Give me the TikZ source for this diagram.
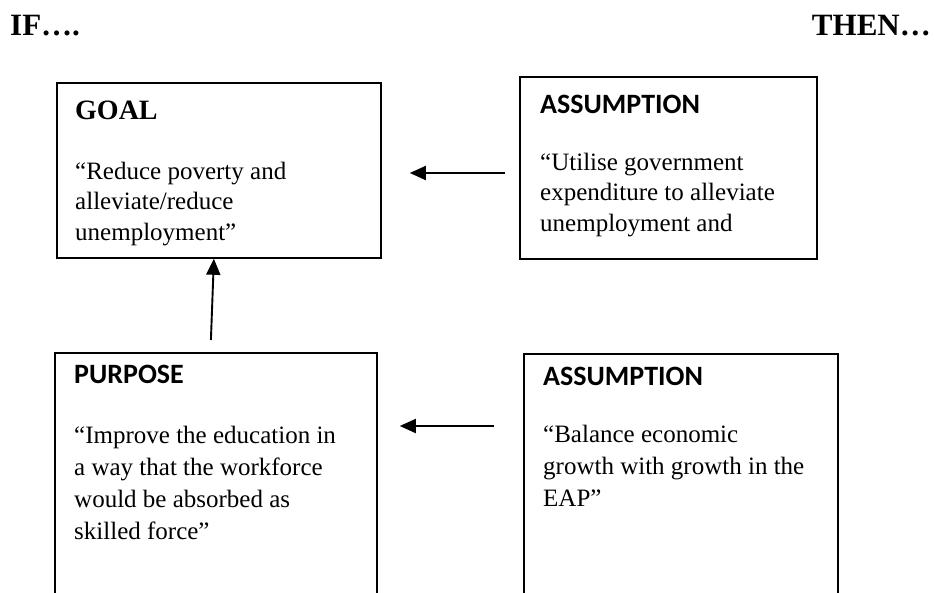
\documentclass[tikz,border=0pt]{standalone}
\usepackage{fontspec}
\setmainfont{Liberation Serif}
\newfontfamily\headfont{Carlito}
\usetikzlibrary{arrows.meta}

\begin{document}
\begin{tikzpicture}[x=1pt,y=-1pt,
  frame/.style={draw, line width=1.8pt, rectangle, inner sep=0pt, anchor=north west},
  sidelabel/.style={inner sep=0pt, font=\bfseries\fontsize{31}{34}\selectfont},
  serifhead/.style={anchor=base west, inner sep=0pt, font=\bfseries\fontsize{28}{32}\selectfont},
  sanshead/.style={anchor=base west, inner sep=0pt, font=\headfont\bfseries\fontsize{28}{32}\selectfont},
  bodyA/.style={anchor=base west, inner sep=0pt, font=\fontsize{25}{30.5}\selectfont},
  bodyB/.style={anchor=base west, inner sep=0pt, font=\fontsize{25}{32}\selectfont},
  link/.style={line width=1.9pt, -{Triangle[length=16pt,width=14pt]}},
]
\useasboundingbox (0,0) rectangle (934,592);

% column captions
\node[sidelabel, anchor=base west] (if) at (10,35) {IF….};
\node[sidelabel, anchor=base east] (then) at (931,35) {THEN…};

% frames
\node[frame, minimum width=324pt, minimum height=175pt] (goal) at (56,82) {};
\node[frame, minimum width=297pt, minimum height=182pt] (asmA) at (519,76) {};
\node[frame, minimum width=322pt, minimum height=268pt] (purp) at (54,352) {};
\node[frame, minimum width=314pt, minimum height=267pt] (asmB) at (523,353) {};

% frame contents
\node[serifhead] (goalhead) at (75,119) {GOAL};
\node[bodyA] (goaltext) at (75,179)
  {\parbox[t]{300pt}{\raggedright “Reduce poverty and\\alleviate/reduce\\unemployment”}};

\node[sanshead] (asmAhead) at (540,113) {ASSUMPTION};
\node[bodyA] (asmAtext) at (540,170)
  {\parbox[t]{280pt}{\raggedright “Utilise government\\expenditure to alleviate\\unemployment and}};

\node[sanshead] (purphead) at (74,383) {PURPOSE};
\node[bodyB] (purptext) at (74,443)
  {\parbox[t]{300pt}{\raggedright “Improve the education in\\a way that the workforce\\would be absorbed as\\skilled force”}};

\node[sanshead] (asmBhead) at (543,385) {ASSUMPTION};
\node[bodyB] (asmBtext) at (543,442)
  {\parbox[t]{290pt}{\raggedright “Balance economic\\growth with growth in the\\EAP”}};

% connectors
\draw[link] ([xshift=-14pt,yshift=-97pt]asmA.north west) -- ([xshift=28pt,yshift=-91pt]goal.north east);
\draw[link] ([xshift=-5pt,yshift=12pt]purp.north) -- ([xshift=-5pt]goal.south);
\draw[link] ([xshift=-29pt,yshift=-73pt]asmB.north west) -- ([xshift=22pt,yshift=-74pt]purp.north east);
\end{tikzpicture}
\end{document}
